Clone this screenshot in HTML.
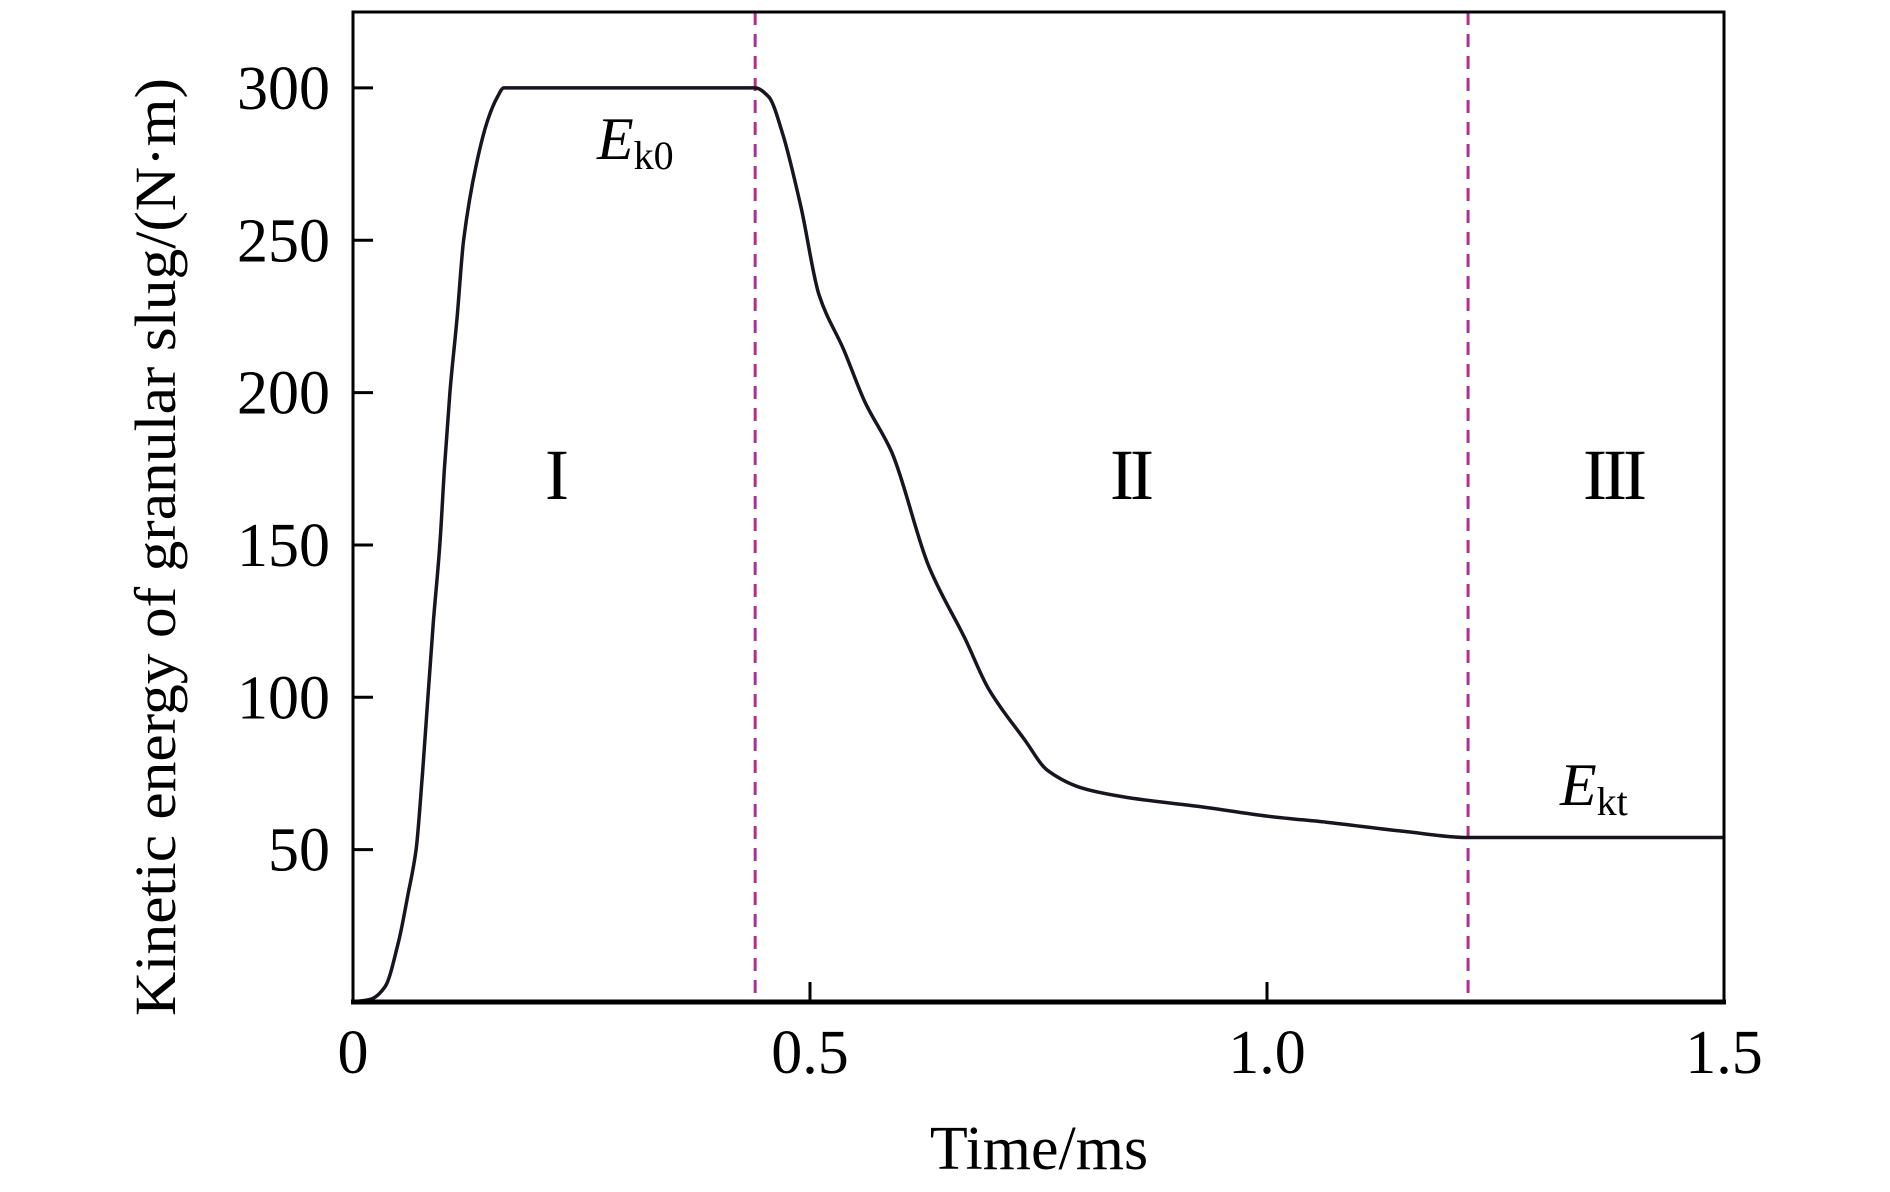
<!DOCTYPE html>
<html><head><meta charset="utf-8"><style>
html,body{margin:0;padding:0;background:#fff}
svg{display:block;font-family:"Liberation Serif",serif}
</style></head><body>
<svg id="chart" width="1890" height="1192" viewBox="0 0 1890 1192" xmlns="http://www.w3.org/2000/svg">
<g id="plot"></g>
</svg>
<script>
const timeMs = [0,0.02,0.035,0.05,0.06,0.069,0.076,0.082,0.088,0.095,0.1,0.106,0.114,0.121,0.135,0.148,0.158,0.165,0.2,0.3,0.44,0.455,0.47,0.49,0.51,0.537,0.56,0.59,0.63,0.67,0.695,0.735,0.76,0.8,0.85,0.93,1.0,1.065,1.15,1.22,1.3,1.4,1.5];
const energy = [0,1,5,20,35,50,75,100,125,150,175,200,225,250,275,290,297,300,300,300,300,297,285,261,232,214,197,180,143,119,103,86,76,70,67,64,61,59,56,54,54,54,54];
const xTicks = [0,0.5,1.0,1.5];
const xTickLabels = ["0","0.5","1.0","1.5"];
const yTicks = [50,100,150,200,250,300];
const yTickLabels = ["50","100","150","200","250","300"];
const phaseBounds = [0.44,1.22];

const NS="http://www.w3.org/2000/svg";
const L=353,R=1724,T=12,B=1002;
const xMax=1.5,yMax=(B-T)/3.047;
function sx(v){return L+(v/xMax)*(R-L);}
function sy(v){return B-(v/yMax)*(B-T);}
const g=document.getElementById('plot');
function mk(tag,attrs,parent){const e=document.createElementNS(NS,tag);for(const k in attrs)e.setAttribute(k,attrs[k]);(parent||g).appendChild(e);return e;}

phaseBounds.forEach((b,i)=>{
  const ln=mk('line',{x1:sx(b),x2:sx(b),y1:T,y2:B,stroke:'#b0308f','stroke-width':3,'stroke-dasharray':'13 9'});
  
  
});

// monotone cubic smoothing in pixel space
const px=timeMs.map(sx), py=energy.map(sy), n=px.length;
const dl=[],m=[];
for(let i=0;i<n-1;i++)dl.push((py[i+1]-py[i])/(px[i+1]-px[i]));
m[0]=dl[0];m[n-1]=dl[n-2];
for(let i=1;i<n-1;i++){m[i]=(dl[i-1]*dl[i]<=0)?0:2/(1/dl[i-1]+1/dl[i]);}
let d='M'+px[0].toFixed(1)+','+py[0].toFixed(1);
for(let i=0;i<n-1;i++){const h=(px[i+1]-px[i])/3;
  d+='C'+(px[i]+h).toFixed(1)+','+(py[i]+m[i]*h).toFixed(1)+' '+(px[i+1]-h).toFixed(1)+','+(py[i+1]-m[i+1]*h).toFixed(1)+' '+px[i+1].toFixed(1)+','+py[i+1].toFixed(1);}
const path=mk('path',{d:d,fill:'none',stroke:'#1a1420','stroke-width':3.5,'stroke-linejoin':'round'});



const fr=mk('rect',{x:L,y:T,width:R-L,height:B-T,fill:'none',stroke:'#000','stroke-width':3});


mk('line',{x1:L-2,x2:R+2,y1:B,y2:B,stroke:'#000','stroke-width':5});

xTicks.forEach((v,i)=>{
  if(v>0&&v<xMax){const tk=mk('line',{x1:sx(v),x2:sx(v),y1:B,y2:B-20,stroke:'#000','stroke-width':3});
  
  }
  const tx=mk('text',{x:sx(v),y:1073,'text-anchor':'middle','font-size':62});
  tx.textContent=xTickLabels[i];
  
  
});
yTicks.forEach((v,i)=>{
  const tk=mk('line',{x1:L,x2:L+20,y1:sy(v),y2:sy(v),stroke:'#000','stroke-width':3});
  
  
  const tx=mk('text',{x:330,y:sy(v)+21,'text-anchor':'end','font-size':62});
  tx.textContent=yTickLabels[i];
  
  
});
</script>
<svg style="position:absolute;left:0;top:0" width="1890" height="1192">
<text x="1039" y="1169" text-anchor="middle" font-size="62" font-family="Liberation Serif, serif">Time/ms</text>
<text transform="translate(175,547) rotate(-90)" text-anchor="middle" font-size="58" textLength="938" lengthAdjust="spacingAndGlyphs" font-family="Liberation Serif, serif">Kinetic energy of granular slug/(N·m)</text>
<text x="557" y="499" text-anchor="middle" font-size="72" font-family="Liberation Serif, serif">I</text>
<text x="1130" y="499" text-anchor="middle" font-size="72" letter-spacing="-4" font-family="Liberation Serif, serif">II</text>
<text x="1613" y="499" text-anchor="middle" font-size="72" letter-spacing="-4" font-family="Liberation Serif, serif">III</text>
<text x="597" y="159" font-size="60" font-family="Liberation Serif, serif"><tspan font-style="italic">E</tspan><tspan font-size="40" dy="10">k0</tspan></text>
<text x="1560" y="805" font-size="60" font-family="Liberation Serif, serif"><tspan font-style="italic">E</tspan><tspan font-size="40" dy="10">kt</tspan></text>
</svg>
</body></html>
